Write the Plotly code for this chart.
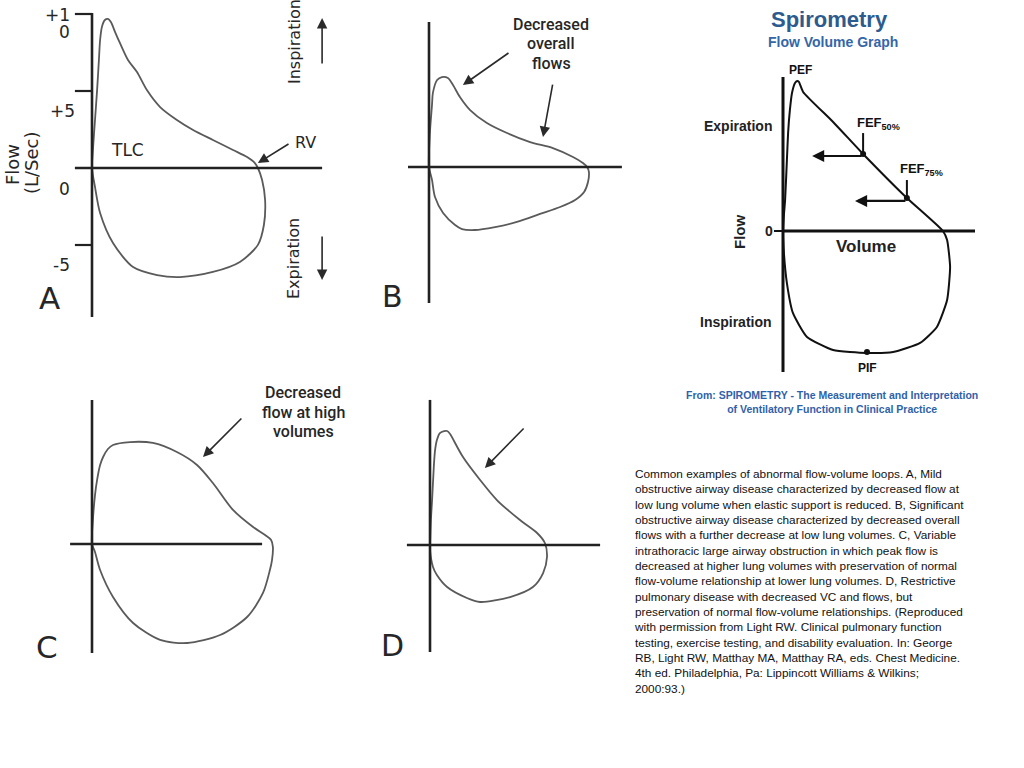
import plotly.graph_objects as go

W, H = 1024, 768
SX, SY = 30.0, 15.4          # pixels per volume unit / per flow unit

# ---------------- data (volume, flow) ----------------
a_volume = [0, 0.03, 0.1, 0.17, 0.23, 0.27, 0.33, 0.43, 0.53, 0.63, 0.77, 0.93, 1.2, 1.5, 1.83, 2.27,
            2.83, 3.37, 4.03, 4.7, 5.17, 5.43, 5.53, 5.67, 5.77, 5.73, 5.53, 4.93, 4.03, 2.93, 2.17,
            1.37, 0.7, 0.27, 0.1, 0]
a_flow = [0, 1.17, 3.12, 5.06, 7.01, 8.31, 9.16, 9.61, 9.68, 9.48, 8.83, 8.12, 7.01, 6.23, 5.06, 3.96,
          3.12, 2.47, 1.82, 1.17, 0.71, 0.32, 0, -0.78, -2.08, -3.7, -4.99, -6.1, -6.75, -7.08, -6.95,
          -6.43, -4.87, -2.92, -1.23, 0]

b_volume = [0, 0.03, 0.1, 0.13, 0.27, 0.43, 0.63, 0.8, 1.03, 1.37, 1.93, 2.6, 3.37, 4.13, 4.8, 5.13, 5.27,
            5.33, 5.3, 5.17, 4.87, 4.37, 3.7, 2.93, 2.2, 1.53, 1.1, 0.87, 0.47, 0.2, 0.1, 0]
b_flow = [0, 2.21, 4.03, 4.81, 5.65, 5.84, 5.78, 5.32, 4.55, 3.7, 2.86, 2.21, 1.62, 1.23, 0.65, 0.26, 0,
          -0.32, -0.97, -1.62, -2.14, -2.6, -3.05, -3.57, -3.9, -4.09, -4.03, -3.77, -2.99, -1.95, -0.84, 0]

c_volume = [0, 0.03, 0.1, 0.17, 0.27, 0.37, 0.53, 0.7, 1.27, 2.03, 2.83, 3.5, 4.03, 4.7, 5.37, 5.77, 5.97,
            6.03, 6.0, 5.93, 5.7, 5.17, 4.27, 3.17, 2.27, 1.37, 0.7, 0.27, 0.1, 0]
c_flow = [0, 1.56, 3.18, 4.16, 5.13, 5.65, 6.17, 6.43, 6.62, 6.56, 5.97, 5.13, 3.96, 2.21, 1.1, 0.58, 0.26,
          -0.19, -1.04, -1.69, -3.18, -4.74, -5.91, -6.43, -6.23, -5.13, -3.44, -1.69, -0.52, 0]

d_volume = [0, 0.03, 0.07, 0.13, 0.17, 0.23, 0.33, 0.47, 0.57, 0.67, 0.73, 1.1, 1.67, 2.23, 3.0, 3.57, 3.83,
            3.9, 3.77, 3.43, 2.67, 1.67, 1.23, 0.57, 0.23, 0.1, 0, 0]
d_flow = [0, 1.62, 2.92, 5.19, 6.17, 6.82, 7.27, 7.4, 7.4, 7.21, 7.01, 5.71, 4.22, 2.92, 1.62, 0.78, 0.13,
          -0.78, -1.82, -2.73, -3.38, -3.7, -3.44, -2.73, -1.95, -1.43, -0.32, 0]

s_volume = [0, 0.03, 0.07, 0.13, 0.17, 0.23, 0.3, 0.4, 0.47, 0.53, 0.67, 1.67, 2.67, 4.13, 5.33, 5.47, 5.57,
            5.47, 5.13, 4.57, 3.67, 2.8, 1.67, 0.8, 0.33, 0.13, 0.03, 0]
s_flow = [0, 1.04, 2.01, 4.61, 6.36, 7.86, 8.96, 9.61, 9.74, 9.68, 9.03, 7.08, 5.0, 2.14, 0, -0.58, -2.34,
          -4.48, -6.23, -7.27, -7.86, -7.92, -7.73, -6.88, -5.32, -3.38, -1.43, 0]

# key points on the spirometry loop
fef_labels = ["FEF<sub>50%</sub>", "FEF<sub>75%</sub>"]
fef_volume = [2.67, 4.13]
fef_flow = [5.0, 2.14]
pif_volume, pif_flow = 2.8, -7.86

# panel A scale
a_tick_values = [10, 5, -5]
a_tick_text = ["+1", "0", "+5", "0", "-5"]

paragraph = [
    "Common examples of abnormal flow-volume loops. A, Mild",
    "obstructive airway disease characterized by decreased flow at",
    "low lung volume when elastic support is reduced. B, Significant",
    "obstructive airway disease characterized by decreased overall",
    "flows with a further decrease at low lung volumes. C, Variable",
    "intrathoracic large airway obstruction in which peak flow is",
    "decreased at higher lung volumes with preservation of normal",
    "flow-volume relationship at lower lung volumes. D, Restrictive",
    "pulmonary disease with decreased VC and flows, but",
    "preservation of normal flow-volume relationships. (Reproduced",
    "with permission from Light RW. Clinical pulmonary function",
    "testing, exercise testing, and disability evaluation. In: George",
    "RB, Light RW, Matthay MA, Matthay RA, eds. Chest Medicine.",
    "4th ed. Philadelphia, Pa: Lippincott Williams & Wilkins;",
    "2000:93.)",
]

# ---------------- layout helpers ----------------
PANEL_ORIGIN = {"": (92, 168), "2": (429, 167), "3": (92, 544), "4": (430, 545), "5": (783, 231)}
# axis cross extents: (vmin, vmax, fmin, fmax)
PANEL_CROSS = {"": (-0.57, 7.67, -9.68, 10.06), "2": (-0.7, 6.43, -8.83, 9.42),
               "3": (-0.73, 5.67, -7.08, 9.35), "4": (-0.77, 5.67, -6.95, 9.42),
               "5": (-0.03, 6.4, -9.16, 10.0)}

FONT = "DejaVu Sans"
ARIAL = "Liberation Sans, Arial"
NARROW = "Roboto, Liberation Sans"
TXT = "#262626"

fig = go.Figure()
layout = dict(width=W, height=H, margin=dict(l=0, r=0, t=0, b=0, pad=0), autosize=False,
              paper_bgcolor="white", plot_bgcolor="rgba(0,0,0,0)", showlegend=False)
for k, (ox, oy) in PANEL_ORIGIN.items():
    layout["xaxis" + k] = dict(domain=[0, 1], range=[-ox / SX, (W - ox) / SX], visible=False,
                               fixedrange=True, anchor="y" + k)
    layout["yaxis" + k] = dict(domain=[0, 1], range=[(oy - H) / SY, oy / SY], visible=False,
                               fixedrange=True, anchor="x" + k)
fig.update_layout(**layout)

shapes = []
for k, (v0, v1, f0, f1) in PANEL_CROSS.items():
    lw = 3 if k == "5" else 2.6
    col = "#111111" if k == "5" else "#222222"
    shapes.append(dict(type="line", xref="x" + k, yref="y" + k, x0=0, x1=0, y0=f0, y1=f1,
                       line=dict(color=col, width=lw)))
    shapes.append(dict(type="line", xref="x" + k, yref="y" + k, x0=v0, x1=v1, y0=0, y1=0,
                       line=dict(color=col, width=lw)))
for t in a_tick_values:
    shapes.append(dict(type="line", xref="x", yref="y", x0=-0.57, x1=0, y0=t, y1=t,
                       line=dict(color="#222222", width=2.2)))
# spirometry: zero tick and FEF ticks
shapes.append(dict(type="line", xref="x5", yref="y5", x0=-0.3, x1=0, y0=0, y1=0,
                   line=dict(color="#111111", width=2)))
for v, f, top in zip(fef_volume, fef_flow, [6.36, 3.31]):
    shapes.append(dict(type="line", xref="x5", yref="y5", x0=v, x1=v, y0=f, y1=top,
                       line=dict(color="#111111", width=2)))
fig.update_layout(shapes=shapes)

loops = [("", a_volume, a_flow), ("2", b_volume, b_flow), ("3", c_volume, c_flow),
         ("4", d_volume, d_flow)]
for k, v, f in loops:
    fig.add_trace(go.Scatter(x=v, y=f, mode="lines", xaxis="x" + k, yaxis="y" + k,
                             line=dict(color="#5a5a5a", width=1.8, shape="spline", smoothing=0.8),
                             hoverinfo="skip"))
fig.add_trace(go.Scatter(x=s_volume, y=s_flow, mode="lines", xaxis="x5", yaxis="y5",
                         line=dict(color="#111111", width=2, shape="spline", smoothing=0.5),
                         hoverinfo="skip"))
fig.add_trace(go.Scatter(x=fef_volume + [pif_volume], y=fef_flow + [pif_flow], mode="markers",
                         xaxis="x5", yaxis="y5", marker=dict(color="#111111", size=6),
                         hoverinfo="skip"))

ann = []


def label(text, x, y, size, color=TXT, family=FONT, angle=0, xanchor="center", align="center",
          weight="normal"):
    ann.append(dict(text=text, x=x / W, y=1 - y / H, xref="paper", yref="paper",
                    showarrow=False,
                    font=dict(size=size, color=color, family=family, weight=weight),
                    textangle=angle, xanchor=xanchor, yanchor="middle", align=align))


def arrow(k, head, tail, color="#2a2a2a", width=1.6, size=1.3, head_style=2):
    ann.append(dict(text="", x=head[0], y=head[1], ax=tail[0], ay=tail[1],
                    xref="x" + k, yref="y" + k, axref="x" + k, ayref="y" + k, showarrow=True,
                    arrowhead=head_style, arrowsize=size, arrowwidth=width, arrowcolor=color))


# ---- panel A text ----
for txt, (x, y) in zip(a_tick_text, [(57, 15), (64, 32), (62, 111), (64, 189), (61, 265)]):
    label(txt, x, y, 17)
label("Flow", 12, 165, 18, angle=-90)
label("(L/Sec)", 31, 163, 18, angle=-90)
label("TLC", 127, 150, 17)
label("RV", 305, 142, 16)
label("A", 49, 298, 31)
label("Inspiration", 294, 42, 16, angle=-90)
label("Expiration", 294, 259, 16, angle=-90)
arrow("", (5.53, 0.32), (6.6, 1.62))
arrow("", (7.67, 9.74), (7.67, 6.69), width=1.6)
arrow("", (7.67, -7.27), (7.67, -4.35), width=1.6)

# ---- panel B ----
label("B", 392, 296, 30)
for txt, y in zip(["Decreased", "overall", "flows"], [24, 44, 63]):
    label(txt, 551, y, 16, family=NARROW, weight=500)
arrow("2", (1.13, 5.32), (2.7, 7.47))
arrow("2", (3.8, 1.95), (4.13, 5.45))

# ---- panel C ----
label("C", 47, 647, 31)
for txt, y in zip(["Decreased", "flow at high", "volumes"], [392, 412, 431]):
    label(txt, 303, y, 16, family=NARROW, weight=500)
arrow("3", (3.7, 5.65), (5.03, 8.25))

# ---- panel D ----
label("D", 392, 645, 30)
arrow("4", (1.83, 5.0), (3.17, 7.66))

# ---- spirometry ----
BLUE = "#2d5b8e"
label("<b>Spirometry</b>", 829, 19, 22, color=BLUE, family=ARIAL)
label("<b>Flow Volume Graph</b>", 833, 42, 14, color="#3566a8", family=ARIAL)
label("<b>PEF</b>", 800, 70, 12, color="#111111", family=ARIAL)
label("<b>Expiration</b>", 738, 126, 14, color="#222222", family=ARIAL)
label("<b>Inspiration</b>", 736, 322, 14, color="#222222", family=ARIAL)
label("<b>Flow</b>", 740, 232, 15, color="#222222", family=ARIAL, angle=-90)
label("<b>0</b>", 769, 231, 14, color="#222222", family=ARIAL)
label("<b>Volume</b>", 866, 247, 17, color="#222222", family=ARIAL)
label("<b>PIF</b>", 867, 368, 12, color="#111111", family=ARIAL)
for txt, (x, y) in zip(fef_labels, [(855, 123), (898, 170)]):
    label("<b>" + txt + "</b>", x, y, 13, color="#111111", family=ARIAL, xanchor="left")
arrow("5", (0.97, 4.87), (2.67, 4.87), color="#111111", width=2.2, size=1.1)
arrow("5", (2.4, 1.95), (4.13, 1.95), color="#111111", width=2.2, size=1.1)
label("<b>From: SPIROMETRY - The Measurement and Interpretation<br>"
      "of Ventilatory Function in Clinical Practice</b>", 832, 402, 10.5, color="#2f62a8",
      family=ARIAL)

# ---- paragraph ----
ann.append(dict(text="<br>".join(paragraph), x=632 / W, y=1 - 465 / H,
                xref="paper", yref="paper",
                showarrow=False, xanchor="left", yanchor="top", align="left",
                font=dict(size=11.8, color="#111111", family=ARIAL)))

fig.update_layout(annotations=ann)
fig.write_html("out.html", config={"displayModeBar": False, "staticPlot": True},
               post_script="document.body.style.margin='0px';"
                           "document.body.style.overflow='hidden';")
